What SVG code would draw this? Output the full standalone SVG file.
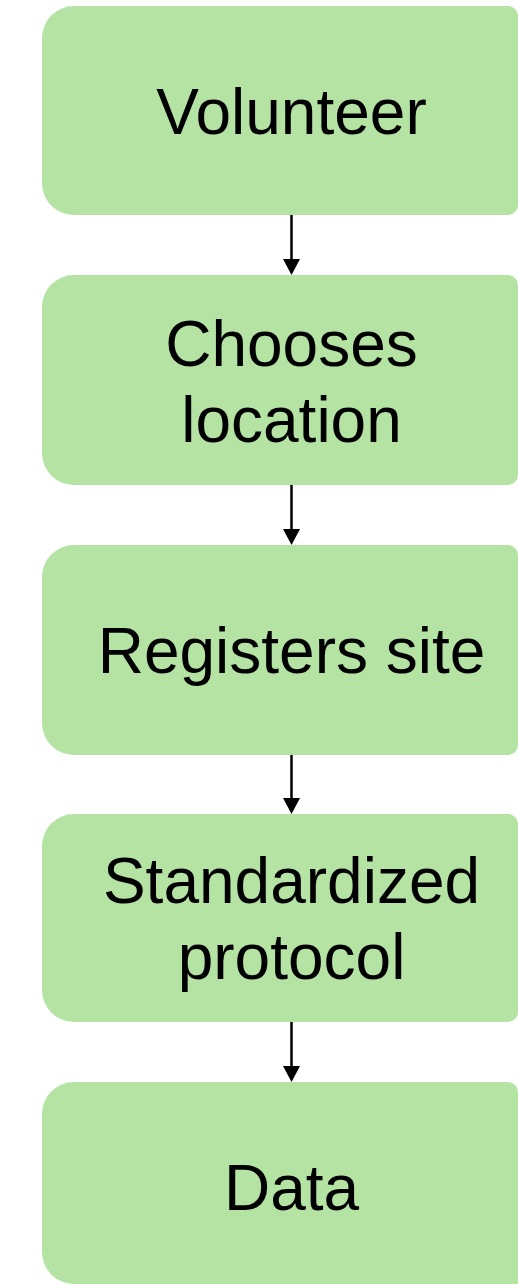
<svg xmlns="http://www.w3.org/2000/svg" width="518" height="1284" viewBox="0 0 518 1284">
  <defs>
    <style>
      .box { fill: #b5e3a4; }
      .label { font-family: "Liberation Sans", Arial, sans-serif; font-size: 64px; fill: #000; text-anchor: middle; }
      .link { stroke: #000; stroke-width: 2.5; fill: none; }
      .head { fill: #000; }
    </style>
  </defs>

  <!-- Process steps -->
  <g id="volunteer">
    <path class="box" d="M74 6 H508 A10 10 0 0 1 518 16 V205 A10 10 0 0 1 508 215 H74 A32 32 0 0 1 42 183 V38 A32 32 0 0 1 74 6 Z"/>
    <text class="label" x="291.5" y="134">Volunteer</text>
  </g>

  <g id="chooses-location">
    <path class="box" d="M74 275 H508 A10 10 0 0 1 518 285 V475 A10 10 0 0 1 508 485 H74 A32 32 0 0 1 42 453 V307 A32 32 0 0 1 74 275 Z"/>
    <text class="label" x="291.5" y="366">Chooses</text>
    <text class="label" x="291.5" y="442">location</text>
  </g>

  <g id="registers-site">
    <path class="box" d="M74 545 H508 A10 10 0 0 1 518 555 V745 A10 10 0 0 1 508 755 H74 A32 32 0 0 1 42 723 V577 A32 32 0 0 1 74 545 Z"/>
    <text class="label" x="291.5" y="673">Registers site</text>
  </g>

  <g id="standardized-protocol">
    <path class="box" d="M74 814 H508 A10 10 0 0 1 518 824 V1012 A10 10 0 0 1 508 1022 H74 A32 32 0 0 1 42 990 V846 A32 32 0 0 1 74 814 Z"/>
    <text class="label" x="291.5" y="903">Standardized</text>
    <text class="label" x="291.5" y="979">protocol</text>
  </g>

  <g id="data">
    <path class="box" d="M74 1082 H508 A10 10 0 0 1 518 1092 V1284 H74 A32 32 0 0 1 42 1252 V1114 A32 32 0 0 1 74 1082 Z"/>
    <text class="label" x="291.5" y="1210">Data</text>
  </g>

  <!-- Connectors -->
  <g id="connectors">
    <line class="link" x1="291.5" y1="215" x2="291.5" y2="261"/>
    <polygon class="head" points="283,259 300,259 291.5,275"/>
    <line class="link" x1="291.5" y1="485" x2="291.5" y2="531"/>
    <polygon class="head" points="283,529 300,529 291.5,545"/>
    <line class="link" x1="291.5" y1="755" x2="291.5" y2="800"/>
    <polygon class="head" points="283,798 300,798 291.5,814"/>
    <line class="link" x1="291.5" y1="1022" x2="291.5" y2="1068"/>
    <polygon class="head" points="283,1066 300,1066 291.5,1082"/>
  </g>
</svg>
